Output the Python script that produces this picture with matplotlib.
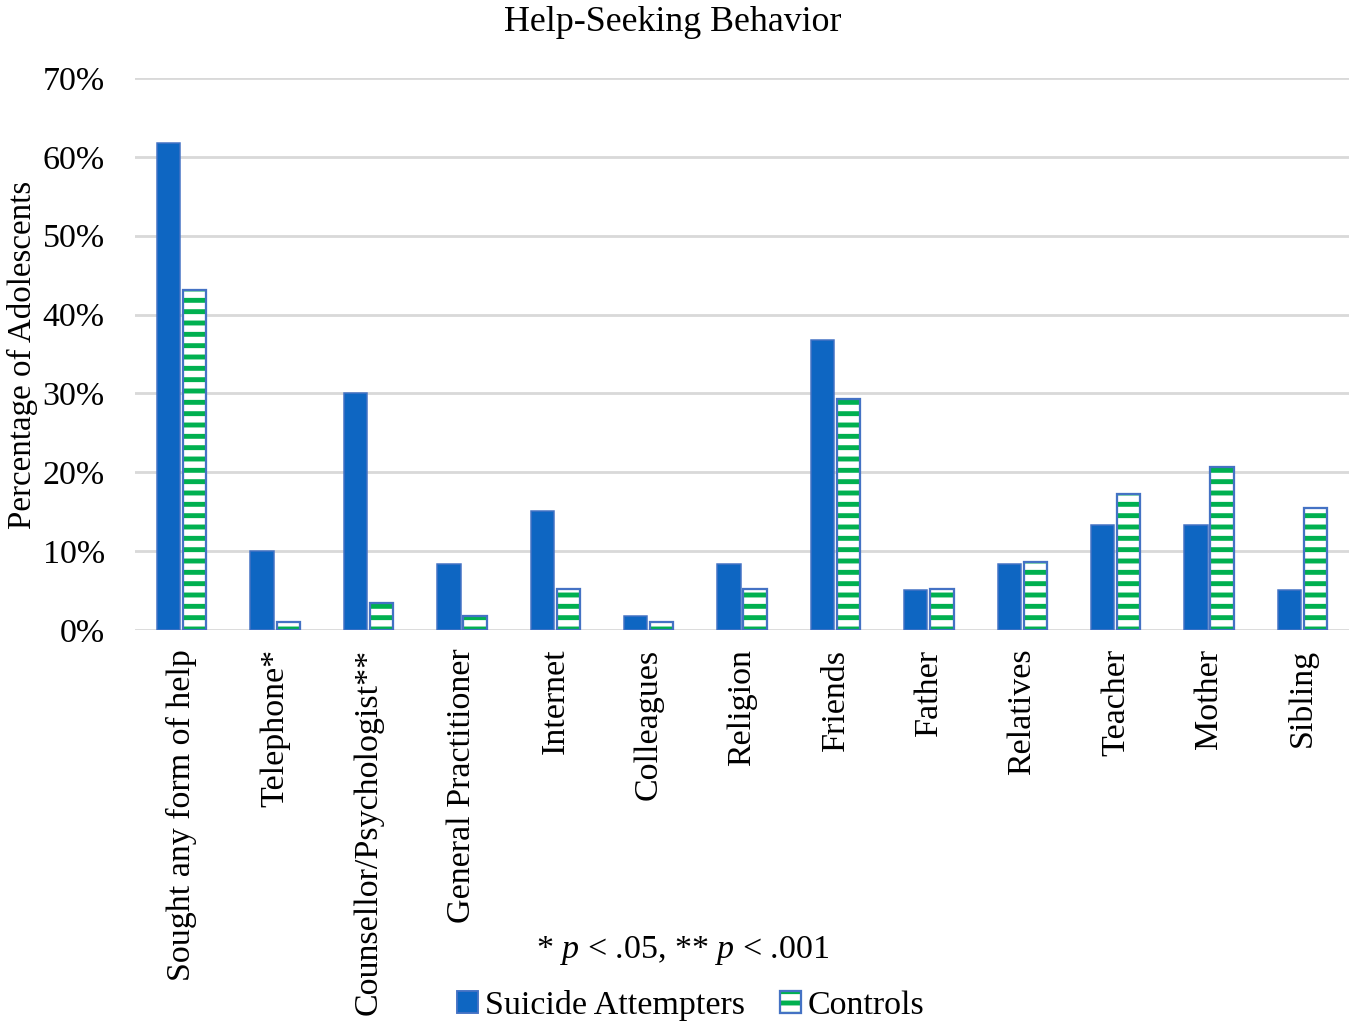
import matplotlib
matplotlib.use("Agg")
import matplotlib.pyplot as plt
from matplotlib.patches import Patch
from matplotlib.legend_handler import HandlerTuple
from matplotlib.ticker import PercentFormatter
import numpy as np

BLUE = "#0E66C2"
EDGE = "#4472C4"
GREEN = "#00B050"
GRID = "#D9D9D9"

plt.rcParams.update({
    "font.family": ["Liberation Serif", "DejaVu Serif"],
    "mathtext.fontset": "custom",
    "mathtext.rm": "Liberation Serif",
    "mathtext.it": "Liberation Serif:italic",
    "hatch.linewidth": 2.6,
})

categories = ["Sought any form of help", "Telephone*", "Counsellor/Psychologist**",
              "General Practitioner", "Internet", "Colleagues", "Religion", "Friends",
              "Father", "Relatives", "Teacher", "Mother", "Sibling"]
attempters = [61.7, 10.0, 30.0, 8.4, 15.1, 1.8, 8.4, 36.8, 5.1, 8.4, 13.3, 13.3, 5.1]
controls = [43.1, 1.0, 3.4, 1.8, 5.2, 1.0, 5.2, 29.3, 5.2, 8.6, 17.2, 20.7, 15.5]

DPI = 136
fig = plt.figure(figsize=(1360 / DPI, 1031 / DPI), dpi=DPI)
ax = fig.add_axes([0.0993, 0.389, 0.8927, 0.5353])

x = np.arange(len(categories))
w = 0.25
ax.bar(x - 0.14, attempters, w, color=BLUE, edgecolor=EDGE, linewidth=0.8, zorder=3)
# striped controls: green hatch layer, then blue outline
ax.bar(x + 0.14, controls, w, color="white", edgecolor=GREEN, hatch="--", linewidth=0, zorder=3)
ax.bar(x + 0.14, controls, w, fill=False, edgecolor=EDGE, linewidth=1.2, zorder=4)

ax.set_xlim(-0.5, len(categories) - 0.5)
ax.set_ylim(0, 70)
ax.set_yticks(np.arange(0, 71, 10))
ax.yaxis.set_major_formatter(PercentFormatter(decimals=0))
ax.grid(axis="y", color=GRID, lw=1.5, zorder=0)
for s in ax.spines.values():
    s.set_visible(False)
ax.tick_params(length=0, labelsize=18)
ax.tick_params(axis="y", pad=16)
ax.tick_params(axis="x", pad=10)
ax.set_xticks(x)
ax.set_xticklabels(categories, rotation=90)

fig.text(22 / 1360, 0.656, "Percentage of Adolescents", rotation=90,
         ha="center", va="center", fontsize=17.5)
fig.text(0.495, 0.978, "Help-Seeking Behavior", ha="center", va="center", fontsize=19)
fig.text(0.502, 0.078, r"* $p$ < .05, ** $p$ < .001", ha="center", va="center", fontsize=18)

h_att = Patch(facecolor=BLUE, edgecolor=EDGE)
h_ctl = (Patch(facecolor="white", edgecolor=GREEN, hatch="--", linewidth=0),
         Patch(fill=False, edgecolor=EDGE, linewidth=1.2))
fig.legend([h_att, h_ctl], ["Suicide Attempters", "Controls"], loc="center",
           bbox_to_anchor=(0.508, 0.025), ncol=2, frameon=False, fontsize=18,
           handlelength=0.6, handleheight=0.6, handletextpad=0.2, columnspacing=1.05,
           handler_map={tuple: HandlerTuple(ndivide=1, pad=0)})

fig.savefig("out.png", dpi=DPI)
